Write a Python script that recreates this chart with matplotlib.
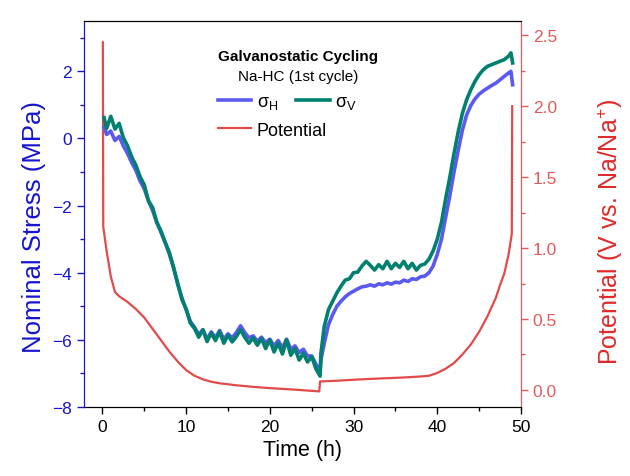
import matplotlib
matplotlib.use("Agg")
import matplotlib.pyplot as plt
from matplotlib.ticker import MultipleLocator

plt.rcParams['font.family'] = ['Liberation Sans', 'DejaVu Sans']
plt.rcParams['mathtext.fontset'] = 'custom'
plt.rcParams['mathtext.rm'] = 'Liberation Sans'
plt.rcParams['mathtext.it'] = 'Liberation Sans:italic'

# ---------------- data ----------------
t_stress = [0.2, 0.5, 1.0, 1.5, 2.0, 2.5, 3.0, 3.5, 4.0, 4.5, 5.0, 5.5, 6.0, 6.5, 7.0, 7.5,
            8.0, 8.5, 9.0, 9.5, 10.0, 10.5, 11.0, 11.5, 12.0, 12.5, 13.0, 13.5, 14.0, 14.5,
            15.0, 15.5, 16.0, 16.5, 17.0, 17.5, 18.0, 18.5, 19.0, 19.5, 20.0, 20.5, 21.0,
            21.5, 22.0, 22.5, 23.0, 23.5, 24.0, 24.5, 25.0, 25.5, 26.0, 26.1, 26.5, 27.0,
            27.5, 28.0, 28.5, 29.0, 29.5, 30.0, 30.5, 31.0, 31.5, 32.0, 32.5, 33.0, 33.5,
            34.0, 34.5, 35.0, 35.5, 36.0, 36.5, 37.0, 37.5, 38.0, 38.5, 39.0, 39.5, 40.0,
            40.5, 41.0, 41.5, 42.0, 42.5, 43.0, 43.5, 44.0, 44.5, 45.0, 45.5, 46.0, 46.5,
            47.0, 47.5, 48.0, 48.5, 48.8, 49.0]

sigma_V = [0.62, 0.30, 0.66, 0.28, 0.45, 0.02, -0.22, -0.55, -0.80, -1.14, -1.38, -1.86,
           -2.06, -2.50, -2.76, -3.10, -3.40, -3.85, -4.32, -4.80, -5.08, -5.50, -5.66,
           -5.92, -5.70, -6.05, -5.80, -6.02, -5.76, -6.10, -5.86, -6.06, -5.90, -5.70,
           -5.92, -6.10, -5.94, -6.16, -5.96, -6.26, -6.00, -6.36, -6.10, -6.42, -6.00,
           -6.46, -6.26, -6.60, -6.40, -6.66, -6.50, -6.86, -7.08, -6.40, -5.60, -5.10,
           -4.85, -4.60, -4.40, -4.22, -4.18, -4.00, -3.98, -3.80, -3.66, -3.78, -3.92,
           -3.76, -3.88, -3.66, -3.88, -3.72, -3.84, -3.66, -3.88, -3.72, -3.92, -3.78,
           -3.74, -3.60, -3.35, -3.00, -2.50, -1.80, -1.15, -0.45, 0.20, 0.75, 1.15, 1.45,
           1.70, 1.90, 2.05, 2.15, 2.20, 2.25, 2.30, 2.35, 2.45, 2.55, 2.25]

sigma_H = [0.35, 0.12, 0.22, -0.06, 0.06, -0.22, -0.45, -0.72, -0.95, -1.27, -1.50, -1.86,
           -2.15, -2.50, -2.80, -3.10, -3.45, -3.85, -4.35, -4.75, -5.10, -5.45, -5.62,
           -5.84, -5.70, -5.98, -5.76, -5.94, -5.72, -5.98, -5.82, -5.94, -5.78, -5.58,
           -5.78, -5.94, -5.88, -6.04, -5.92, -6.08, -5.98, -6.18, -6.02, -6.24, -5.98,
           -6.28, -6.18, -6.38, -6.28, -6.48, -6.48, -6.72, -6.95, -6.60, -6.10, -5.55,
           -5.25, -5.00, -4.85, -4.72, -4.62, -4.55, -4.48, -4.42, -4.40, -4.36, -4.40,
           -4.33, -4.36, -4.30, -4.34, -4.28, -4.30, -4.22, -4.26, -4.18, -4.20, -4.12,
           -4.10, -4.00, -3.80, -3.45, -3.00, -2.35, -1.70, -1.00, -0.35, 0.25, 0.70, 0.98,
           1.18, 1.32, 1.42, 1.50, 1.58, 1.65, 1.75, 1.85, 1.95, 2.00, 1.60]

t_pot = [0.05, 0.10, 0.5, 1.0, 1.5, 2.0, 3.0, 4.0, 5.0, 6.0, 7.0, 8.0, 9.0, 10.0, 11.0,
         12.0, 13.0, 14.0, 16.0, 18.0, 20.0, 22.0, 24.0, 25.9, 26.0, 28.0, 30.0, 32.0,
         34.0, 36.0, 38.0, 39.0, 40.0, 41.0, 42.0, 43.0, 44.0, 45.0, 46.0, 47.0, 47.5,
         48.0, 48.5, 48.9, 48.95]
potential = [2.45, 1.15, 0.98, 0.80, 0.69, 0.66, 0.62, 0.57, 0.51, 0.43, 0.35, 0.27, 0.20,
             0.14, 0.10, 0.075, 0.058, 0.047, 0.033, 0.022, 0.013, 0.006, -0.002, -0.01,
             0.06, 0.065, 0.072, 0.078, 0.083, 0.088, 0.095, 0.10, 0.12, 0.15, 0.19, 0.25,
             0.32, 0.41, 0.52, 0.65, 0.74, 0.82, 0.95, 1.10, 2.0]

# ---------------- plot ----------------
BLUE_AX = '#1515d0'
BLUE_LN = '#5a5af0'
TEAL = '#00806e'
RED_LN = '#e34a4a'
RED_AX = '#e02a2a'
RED_TK = '#e45a5a'

fig = plt.figure(figsize=(6.3, 4.77), dpi=100)
ax = fig.add_axes([84/630, 69/477, 437/630, 386/477])
ax2 = ax.twinx()

l1, = ax.plot(t_stress, sigma_H, color=BLUE_LN, lw=2.6, label=r'σ$_\mathrm{H}$')
l2, = ax.plot(t_stress, sigma_V, color=TEAL, lw=2.6, label=r'σ$_\mathrm{V}$')
l3, = ax2.plot(t_pot, potential, color=RED_LN, lw=1.6, label='Potential')
ax.set_zorder(ax2.get_zorder() + 1)
ax.patch.set_visible(False)

ax.set_xlim(-2.2, 50)
ax.set_ylim(-8, 3.5)
ax2.set_ylim(-0.12, 2.6)

ax.xaxis.set_major_locator(MultipleLocator(10))
ax.xaxis.set_minor_locator(MultipleLocator(5))
ax.yaxis.set_major_locator(MultipleLocator(2))
ax.yaxis.set_minor_locator(MultipleLocator(1))
ax2.yaxis.set_major_locator(MultipleLocator(0.5))
ax2.yaxis.set_minor_locator(MultipleLocator(0.25))
ax2.yaxis.set_major_formatter(plt.FormatStrFormatter('%.1f'))

ax.tick_params(axis='both', which='major', length=5, width=1, labelsize=12.5, direction='out')
ax.tick_params(axis='both', which='minor', length=3, width=1, direction='out')
ax.tick_params(axis='y', which='both', colors=BLUE_AX)
ax.tick_params(axis='x', colors='black')
ax2.tick_params(axis='y', which='major', length=5, width=1, labelsize=12.5, colors=RED_TK)
ax2.tick_params(axis='y', which='minor', length=3, width=1, colors=RED_TK)

for a in (ax, ax2):
    a.spines['left'].set_color(BLUE_AX)
    a.spines['right'].set_color(RED_TK)
    a.spines['top'].set_color('black')
    a.spines['bottom'].set_color('black')

ax.set_xlabel('Time (h)', fontsize=15.5, labelpad=4)
ax.set_ylabel('Nominal Stress (MPa)', fontsize=18.5, color=BLUE_AX)
ax2.set_ylabel('Potential (V vs. Na/Na$^{+}$)', fontsize=18, color=RED_AX)
ax.yaxis.set_label_coords((46 - 84) / 437, 0.47)
ax2.yaxis.set_label_coords((596 - 84) / 437, 0.455)

ax.text(0.49, 0.909, 'Galvanostatic Cycling', transform=ax.transAxes, ha='center',
        va='center', fontsize=11, fontweight='bold')
ax.text(0.49, 0.858, 'Na-HC (1st cycle)', transform=ax.transAxes, ha='center',
        va='center', fontsize=11)

x0 = (218 - 84) / 437
leg1 = ax.legend([l1, l2], [l1.get_label(), l2.get_label()], ncol=2,
                 loc='center left', bbox_to_anchor=(x0, (408 - 103) / 386),
                 frameon=False, fontsize=13, handlelength=1.85, handletextpad=0.3,
                 columnspacing=1.0, borderpad=0, borderaxespad=0)
ax.add_artist(leg1)
leg2 = ax.legend([l3], [l3.get_label()], loc='center left',
                 bbox_to_anchor=(x0, (408 - 131) / 386),
                 frameon=False, fontsize=13, handlelength=1.85, handletextpad=0.3,
                 borderpad=0, borderaxespad=0)

fig.savefig('out.png', dpi=100, facecolor='white')
